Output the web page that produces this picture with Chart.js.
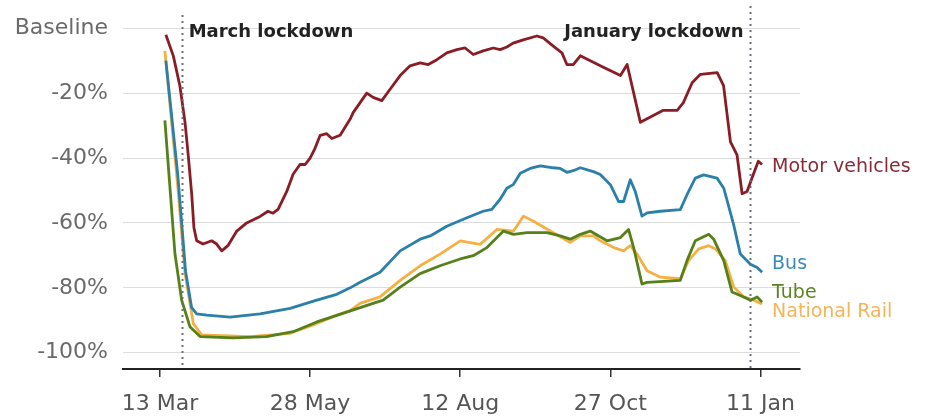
<!DOCTYPE html>
<html>
<head>
<meta charset="utf-8">
<script src="https://cdn.jsdelivr.net/npm/chart.js@4.4.1/dist/chart.umd.min.js"></script>
<style>
  html, body { margin: 0; padding: 0; background: #ffffff; }
  #wrap { width: 925px; height: 416px; position: relative; }
</style>
</head>
<body>
<div id="wrap"><canvas id="c" width="925" height="416"></canvas></div>
<script>
// ---- Data (days counted from 13 Mar 2020) ----
const xTickDays = [0, 76, 152, 228, 304];
const xTickLabels = ["13 Mar", "28 May", "12 Aug", "27 Oct", "11 Jan"];
const yTickValues = [0, -20, -40, -60, -80, -100];

const seriesNames = ["Motor vehicles", "Bus", "Tube", "National Rail"];

const motorDays = [3, 6.8, 10.1, 12.7, 14.3, 16.1, 17.2, 18.6, 21.8, 26.2, 28.7, 31.3, 34.4, 38.9, 43.9, 50.7, 54.7, 57.2, 59.8, 64.2, 67.4, 70.9, 73.5, 76, 78.5, 81.1, 84.4, 87, 91.2, 96.3, 97.8, 104.7, 107.9, 112.3, 116.5, 121.6, 126.6, 131.7, 135.8, 140.2, 145.2, 150.3, 154.5, 158.6, 163.6, 168.7, 172.2, 175.6, 178.8, 183.9, 190.8, 194, 199.1, 203.5, 206, 209.2, 212.8, 222.9, 233.1, 236.5, 243.2, 254.8, 261.8, 264.9, 269.4, 273.6, 282.1, 285.3, 288.8, 292.1, 294.7, 297.2, 300.4, 302.9, 304.8];
const motorVals = [-2, -8.6, -17.8, -29, -39, -51.3, -61.5, -65.5, -66.5, -65.5, -66.5, -68.6, -67, -62.5, -60, -58, -56.4, -57, -55.8, -50.3, -45, -42, -42, -40, -37, -33, -32.5, -34, -33, -28, -26, -20, -21.3, -22.3, -18.8, -14.6, -11.6, -10.7, -11.2, -9.7, -7.6, -6.6, -6.1, -8.1, -7, -6.1, -6.6, -5.8, -4.6, -3.6, -2.4, -3, -5.5, -7.6, -11.2, -11.2, -8.5, -11.6, -14.6, -11.2, -29, -25.3, -25.3, -23, -16.8, -14.2, -13.7, -17.7, -35, -39, -51, -50.3, -45, -41, -42];

const busDays = [3, 9, 13, 16, 18.6, 23.7, 35.5, 50.7, 65.9, 79.4, 89.5, 96.3, 101.3, 106.4, 111.4, 121.6, 131.7, 136.8, 145.2, 155.4, 163.6, 168, 172.2, 175.6, 178.8, 182.4, 187.4, 192.5, 199.1, 202.6, 206, 209.2, 212.8, 219.4, 222.9, 228, 232.2, 234.7, 238.1, 240.6, 244, 246.6, 253.3, 263.4, 266.8, 271, 275.2, 282, 285.4, 290.4, 293.8, 298.9, 302.3, 304.8];
const busVals = [-10, -45, -75, -86, -88, -88.4, -89, -88, -86.3, -83.8, -82, -80, -78.3, -76.7, -75.2, -68.6, -65, -64, -61, -58.4, -56.4, -55.8, -52.7, -49.3, -48.2, -44.7, -43.2, -42.4, -43, -43.2, -44.4, -43.9, -43, -44.2, -45.1, -48.2, -53.4, -53.4, -46.7, -50.3, -57.9, -56.9, -56.4, -55.9, -51.3, -46.2, -45.2, -46.2, -49.3, -60.5, -69.6, -72.7, -73.7, -75.2];

const tubeDays = [2.5, 7.6, 11, 15.2, 20.3, 37, 54, 67.4, 79.4, 89.5, 107.9, 113, 121.6, 131.7, 141.8, 152, 158.6, 165.5, 170.6, 173.9, 179, 185.8, 195.9, 202.6, 207.7, 212.8, 217.8, 226.3, 233.1, 237.2, 239.8, 244, 246.6, 263.4, 266.8, 271, 277.8, 280.3, 285.4, 289.6, 295.5, 298.9, 302.3, 304.8];
const tubeVals = [-28.4, -69.5, -83.8, -92, -95, -95.4, -95, -93.5, -90.5, -88.5, -84.8, -83.8, -79.8, -75.6, -73.2, -71.1, -70.1, -67.6, -64.5, -62.5, -63.5, -63, -63, -64, -65, -63.5, -62.5, -65.5, -64.5, -62, -67.6, -78.8, -78.3, -77.7, -71.6, -65.5, -63.5, -65, -71.6, -81.3, -82.8, -83.8, -82.8, -84.4];

const railDays = [2.5, 9.1, 12.7, 16.9, 21.1, 45.6, 65.9, 79.4, 89.5, 96.3, 101.3, 111.4, 121.6, 131.7, 141.8, 152, 162.1, 170.6, 179, 184, 189.1, 197.6, 207.7, 212.8, 219.5, 222.9, 229.7, 234.7, 238.1, 241.5, 246.6, 253.3, 263.4, 267.6, 272.7, 277.8, 281.2, 286.2, 290.4, 295.5, 300.6, 304.8];
const railVals = [-7, -49.3, -75.6, -91, -94.5, -95, -94, -91, -88.4, -87, -84.8, -82.8, -77.7, -73.2, -69.6, -65.5, -66.6, -62, -62.5, -57.9, -59.5, -62.5, -66, -64, -64, -65.5, -67.6, -68.6, -67, -69.6, -74.7, -76.7, -77.2, -71.6, -68, -67, -68, -71.6, -79.7, -82.8, -83.8, -85];

const lockdownDays = [11, 298.5];
const lockdownLabels = ["March lockdown", "January lockdown"];
// label anchors (value axis units) for the end-of-line labels
const endLabelValues = [-42.7, -72.6, -81.7, -87.5];

// ---- Styles ----
const colors = ["#8a1c26", "#2a80a8", "#55801a", "#f5b043"];
const labelColors = ["#8a2a34", "#3a8cb4", "#5c8424", "#f4b45a"];
const FONT = "'DejaVu Sans', 'Noto Sans', sans-serif";

function pairs(xs, ys) { return xs.map((x, i) => ({ x: x, y: ys[i] })); }

const datasets = [
  [motorDays, motorVals], [busDays, busVals], [tubeDays, tubeVals], [railDays, railVals]
].map((d, i) => ({
  label: seriesNames[i],
  data: pairs(d[0], d[1]),
  borderColor: colors[i],
  backgroundColor: colors[i],
  borderWidth: 2.8,
  borderJoinStyle: 'round',
  pointRadius: 0,
  tension: 0,
  fill: false,
  clip: false
}));

const annotate = {
  id: 'annotate',
  afterDatasetsDraw(chart) {
    const ctx = chart.ctx;
    const xs = chart.scales.x, ys = chart.scales.y;
    const area = chart.chartArea;
    ctx.save();
    // lockdown dotted lines
    ctx.strokeStyle = '#6d6f7a';
    ctx.lineWidth = 2;
    ctx.setLineDash([2, 4]);
    const tops = [15, 6];
    lockdownDays.forEach((d, i) => {
      const px = Math.round(xs.getPixelForValue(d)) + 0.5;
      ctx.beginPath();
      ctx.moveTo(px, tops[i]);
      ctx.lineTo(px, area.bottom);
      ctx.stroke();
    });
    ctx.setLineDash([]);
    ctx.fillStyle = '#222222';
    ctx.font = "bold 18px " + FONT;
    ctx.textBaseline = 'alphabetic';
    let px0 = xs.getPixelForValue(lockdownDays[0]);
    ctx.textAlign = 'left';
    ctx.fillText(lockdownLabels[0], px0 + 7, 37);
    let px1 = xs.getPixelForValue(lockdownDays[1]);
    ctx.textAlign = 'right';
    ctx.fillText(lockdownLabels[1], px1 - 6, 37);

    // end labels
    ctx.font = "19px " + FONT;
    ctx.textAlign = 'left';
    ctx.textBaseline = 'middle';
    chart.data.datasets.forEach((ds, i) => {
      const last = ds.data[ds.data.length - 1];
      const lx = xs.getPixelForValue(last.x) + 10;
      const ly = ys.getPixelForValue(endLabelValues[i]);
      ctx.fillStyle = labelColors[i];
      ctx.fillText(ds.label, lx, ly);
    });
    ctx.restore();
  }
};

new Chart(document.getElementById('c'), {
  type: 'line',
  data: { datasets: datasets },
  options: {
    responsive: false,
    animation: false,
    devicePixelRatio: 1,
    layout: { padding: { top: 25, right: 125, left: 0, bottom: 0 } },
    plugins: { legend: { display: false }, tooltip: { enabled: false } },
    scales: {
      x: {
        type: 'linear',
        min: -18.7,
        max: 324,
        afterBuildTicks(s) { s.ticks = xTickDays.map(v => ({ value: v })); },
        afterFit(s) { s.height = 47; },
        ticks: {
          autoSkip: false,
          maxRotation: 0,
          padding: 14,
          color: '#555555',
          font: { family: FONT, size: 22 },
          callback(v) { const i = xTickDays.indexOf(v); return i >= 0 ? xTickLabels[i] : ''; }
        },
        grid: { display: true, drawOnChartArea: false, drawTicks: true, tickLength: 8, color: '#333333', lineWidth: 1.5 },
        border: { display: true, color: '#222222', width: 2 }
      },
      y: {
        type: 'linear',
        min: -105,
        max: 0,
        afterBuildTicks(s) { s.ticks = yTickValues.map(v => ({ value: v })); },
        afterFit(s) { s.width = 123; },
        ticks: {
          padding: 15,
          color: '#6a6a6a',
          font: { family: FONT, size: 22 },
          callback(v) { return v === 0 ? 'Baseline' : v + '%'; }
        },
        grid: { display: true, drawTicks: false, color: '#dcdcdc', lineWidth: 1 },
        border: { display: false }
      }
    }
  },
  plugins: [annotate]
});
</script>
</body>
</html>
